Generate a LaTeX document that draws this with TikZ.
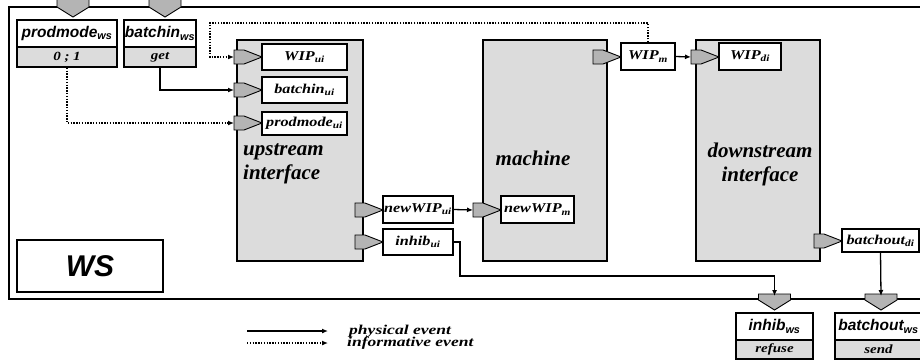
\documentclass[tikz,border=0pt]{standalone}
\usepackage{fontspec}
\usetikzlibrary{arrows.meta}
\newfontfamily\lblfont{Liberation Serif}[FakeStretch=1.2]
\newfontfamily\legfont{Liberation Serif}[FakeStretch=1.3]
\newfontfamily\bigserif{Liberation Serif}
\newfontfamily\arialfont{Liberation Sans}
\definecolor{blockgray}{HTML}{DCDCDC}
\definecolor{portgray}{HTML}{B4B4B4}
\newcommand\rport[3]{%
  \draw[port] (#2-28,#3-7) -- (#2-18,#3-7) -- (#2,#3) -- (#2-18,#3+7) -- (#2-28,#3+7) -- cycle;
  \coordinate (#1) at (#2-28,#3);}
\newcommand\dport[4]{%
  \draw[port] (#2-16,#3) -- (#2+16,#3) -- (#2+16,#3+#4) -- (#2,#4+#3+10) -- (#2-16,#3+#4) -- cycle;
  \coordinate (#1) at (#2,#3);}
\tikzset{
  block/.style={draw, line width=1.5pt, fill=blockgray, inner sep=0pt},
  port/.style={draw, line width=0.9pt, fill=portgray},
  lbl/.style={draw, line width=1.5pt, fill=white, inner sep=0pt,
    font=\lblfont\bfseries\itshape\fontsize{13.5}{13.5}\selectfont},
  wsname/.style={draw, line width=1.5pt, fill=white, inner sep=0pt,
    font=\arialfont\bfseries\itshape\fontsize{15.5}{15.5}\selectfont},
  wsval/.style={draw, line width=1.5pt, fill=blockgray, inner sep=0pt,
    font=\lblfont\bfseries\itshape\fontsize{12.5}{12.5}\selectfont},
  bigtxt/.style={font=\bigserif\bfseries\itshape\fontsize{21}{24}\selectfont, inner sep=0pt},
  phys/.style={line width=1.3pt, -{Latex[length=6pt,width=5pt]}},
  info/.style={line width=1.3pt, dash pattern=on 1.4pt off 1.4pt, -{Latex[length=6pt,width=5pt]}},
  legtxt/.style={font=\legfont\bfseries\itshape\fontsize{13.5}{13.5}\selectfont, inner sep=0pt, anchor=west},
}
\begin{document}
\begin{tikzpicture}[x=1pt,y=-1pt]
\useasboundingbox (0,0) rectangle (920,362);
\clip (0,0) rectangle (920,362);
% outer box
\draw[line width=2pt] (9,7) rectangle (940,299);
% interface blocks
\node[block, minimum width=126pt, minimum height=221pt] (up) at (300,150.5) {};
\node[block, minimum width=124pt, minimum height=221pt] (mach) at (545,150.5) {};
\node[block, minimum width=124pt, minimum height=221pt] (down) at (758,150.5) {};
\node[bigtxt, anchor=west, align=left] (uptxt) at (243,164) {upstream\\interface};
\node[bigtxt] (machtxt) at (533,158) {machine};
\node[bigtxt, align=center] (downtxt) at (760,164) {downstream\\interface};
% WS name box
\node[draw, line width=1.3pt, minimum width=146pt, minimum height=52pt,
      font=\arialfont\bfseries\itshape\fontsize{30}{30}\selectfont] (ws) at (90,266) {WS};
% top ports
\dport{ptopprod}{73}{-3}{10}
\dport{ptopbatch}{165}{-3}{10}
% ws input boxes
\node[wsname, minimum width=100pt, minimum height=27pt] (pws) at (67,33.5) {prodmode\textsubscript{ws}};
\node[wsval, minimum width=100pt, minimum height=20pt] (pwsg) at (67,57) {0 ; 1};
\node[wsname, minimum width=72pt, minimum height=27pt] (bws) at (160,33.5) {batchin\textsubscript{ws}};
\node[wsval, minimum width=72pt, minimum height=20pt] (bwsg) at (160,57) {get};
% bottom ports
\dport{pinhibws}{774.5}{294}{6}
\dport{pbatchoutws}{881}{294}{6}
% ws output boxes
\node[wsname, minimum width=77pt, minimum height=27pt] (iws) at (774.5,326.5) {inhib\textsubscript{ws}};
\node[wsval, minimum width=77pt, minimum height=19pt] (iwsg) at (774.5,349.5) {refuse};
\node[wsname, minimum width=87pt, minimum height=27pt] (bows) at (878.5,326.5) {batchout\textsubscript{ws}};
\node[wsval, minimum width=87pt, minimum height=19pt] (bowsg) at (878.5,349.5) {send};
% ports
\rport{pWIPui}{262}{57}
\rport{pbatchui}{262}{90}
\rport{pprodui}{262}{123}
\rport{pnewui}{383}{210}
\rport{pinhibui}{383}{242}
\rport{pnewm}{501}{210}
\rport{pWIPm}{621}{57}
\rport{pWIPdi}{719}{57}
\rport{pbatchdi}{842}{241}
% label boxes
\node[lbl, minimum width=85pt, minimum height=26pt] (WIPui) at (304.5,57) {WIP\textsubscript{ui}};
\node[lbl, minimum width=85pt, minimum height=26pt] (batchui) at (304.5,90) {batchin\textsubscript{ui}};
\node[lbl, minimum width=85pt, minimum height=23pt] (produi) at (304.5,123.5) {prodmode\textsubscript{ui}};
\node[lbl, minimum width=70pt, minimum height=27pt] (newui) at (418,209.5) {newWIP\textsubscript{ui}};
\node[lbl, minimum width=70pt, minimum height=26pt] (inhibui) at (418,242) {inhib\textsubscript{ui}};
\node[lbl, minimum width=73pt, minimum height=27pt] (newm) at (537.5,209.5) {newWIP\textsubscript{m}};
\node[lbl, minimum width=54pt, minimum height=27pt] (WIPm) at (648,56.5) {WIP\textsubscript{m}};
\node[lbl, minimum width=62pt, minimum height=27pt] (WIPdi) at (750,56.5) {WIP\textsubscript{di}};
\node[lbl, minimum width=77pt, minimum height=23pt] (batchdi) at (880.5,240.5) {batchout\textsubscript{di}};
% connectors
\draw[info] (WIPm.north) |- (210,23) |- (pWIPui);
\draw[phys] (bwsg.south) |- (pbatchui);
\draw[info] (pwsg.south) |- (pprodui);
\draw[phys] (newui.east) -- (pnewm);
\draw[phys] (WIPm.east) -- (pWIPdi);
\draw[phys] (inhibui.east) -| (460,276) -| ([yshift=-2pt]pinhibws);
\draw[phys] (batchdi.south) -- ([yshift=-2pt]pbatchoutws);
% legend
\coordinate (l1a) at (247,331);
\coordinate (l1b) at (328,331);
\coordinate (l2a) at (247,343);
\coordinate (l2b) at (328,343);
\draw[phys] (l1a) -- (l1b);
\draw[info] (l2a) -- (l2b);
\node[legtxt] (leg1) at (349,331) {physical event};
\node[legtxt] (leg2) at (347,343.5) {informative event};
\end{tikzpicture}
\end{document}
